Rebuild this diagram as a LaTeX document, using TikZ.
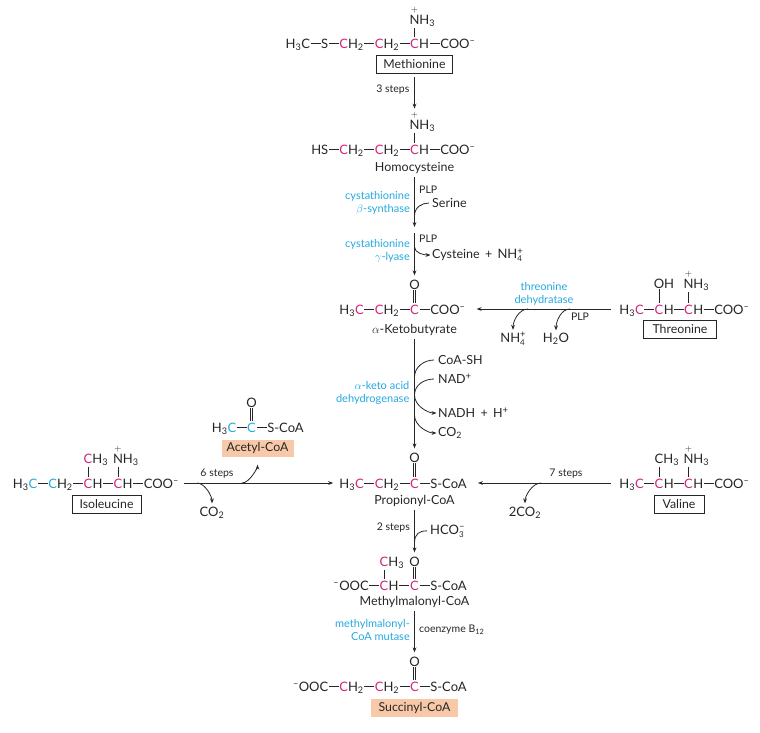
\documentclass[tikz,border=0pt]{standalone}
\usepackage{amsmath}
\usepackage{fontspec}
\setmainfont{Lato}
\usepackage{tikz}
\usetikzlibrary{arrows.meta}
\definecolor{chempink}{HTML}{D4267C}
\definecolor{enzblue}{HTML}{25A9DE}
\definecolor{coabox}{HTML}{F7C9A9}
\newcommand\lo[1]{\textsubscript{#1}}
\newcommand\hi[1]{\textsuperscript{#1}}
\newcommand\cpk[1]{\textcolor{chempink}{#1}}
\newcommand\cbl[1]{\textcolor{enzblue}{#1}}
\newcommand\bnd{\hspace{.6pt}\rule[3.9pt]{9.9pt}{.7pt}\hspace{.6pt}}
\newcommand\ammon{$\overset{+}{\text{N}}$\rlap{H\lo{3}}}
\newcommand\plussup{\raisebox{4.4pt}{\fontsize{9.5}{9.5}\selectfont +}}
\newcommand\subfour[1]{\rlap{\raisebox{-3pt}{\fontsize{8}{8}\selectfont #1}}}
\newcommand\ammonium{NH\subfour{4}\plussup}
\tikzset{
  chem/.style={inner xsep=0pt,inner ysep=1pt,anchor=base,text=black!85,font=\fontsize{13}{15}\selectfont},
  leftpart/.style={chem,anchor=base east},
  rightpart/.style={chem,anchor=base west},
  bond/.style={line width=.7pt,black!85},
  dbond/.style={double,double distance=1.6pt,line width=.55pt,black!85},
  rxn/.style={line width=.8pt,black!85},
  arr/.style={rxn,-{Stealth[length=5pt,width=3.8pt]}},
  lab/.style={inner sep=0pt,text=black!85,font=\fontsize{12.5}{14}\selectfont},
  small/.style={inner sep=0pt,text=black!85,font=\fontsize{10.5}{13}\selectfont},
  enz/.style={inner sep=0pt,align=right,text=enzblue,font=\fontsize{11}{13}\selectfont},
  namebox/.style={draw,line width=.9pt,black!85,text=black!85,inner sep=0pt,minimum height=18pt,font=\fontsize{12.3}{14}\selectfont},
  coa/.style={fill=coabox,inner sep=0pt,minimum height=17pt,text=black!85,font=\fontsize{12.3}{14}\selectfont},
}
\begin{document}
\begin{tikzpicture}[x=1pt,y=-1pt]
  \useasboundingbox (0,0) rectangle (760,732);

  % methionine
  \node[chem] (metC) at (414.5,48) {\cpk{C}};
  \node[leftpart] (metL) at (metC.base west) {H\lo{3}C\bnd S\bnd\cpk{C}H\lo{2}\bnd\cpk{C}H\lo{2}\bnd};
  \node[rightpart] (metR) at (metC.base east) {H\bnd COO\hi{--}};
  \node[chem] (metN) at (414.5,24) {\ammon};
  \draw[bond] (metN) -- (metC);
  \node[namebox,minimum width=76pt] (metbox) at (414.5,64.5) {Methionine};
  \node[small,anchor=east] (steps3) at (409.5,90) {3 steps};

  % homocysteine
  \node[chem] (hcyC) at (414.5,154) {\cpk{C}};
  \node[leftpart] (hcyL) at (hcyC.base west) {HS\bnd\cpk{C}H\lo{2}\bnd\cpk{C}H\lo{2}\bnd};
  \node[rightpart] (hcyR) at (hcyC.base east) {H\bnd COO\hi{--}};
  \node[chem] (hcyN) at (414.5,129) {\ammon};
  \draw[bond] (hcyN) -- (hcyC);
  \node[lab] (hcyname) at (414.5,168) {Homocysteine};
  \draw[arr,shorten <=3pt,shorten >=1pt] (metbox) -- (hcyN);

  % cystathionine steps
  \coordinate (hcyend) at (414.5,227);
  \coordinate (serj) at (414.5,216);
  \draw[arr,shorten <=3pt] (hcyname) -- (hcyend);
  \node[small,anchor=west] (plpa) at (419,190) {PLP};
  \node[lab,anchor=west] (serine) at (432,203) {Serine};
  \draw[rxn,shorten <=3pt] (serine.west) .. controls +(-10,0) and +(0,-9) .. (serj);
  \node[enz,anchor=east] (csyn) at (410,203.5) {cystathionine\\$\beta$-synthase};

  \coordinate (lyatop) at (414.5,233);
  \coordinate (cysj) at (414.5,247);
  \node[chem] (ketoO) at (414.5,289) {O};
  \draw[arr,shorten >=3pt] (lyatop) -- (ketoO);
  \node[small,anchor=west] (plpb) at (419,239) {PLP};
  \node[lab,anchor=west] (cys) at (432,255) {Cysteine \,+\, \fontsize{13}{15}\selectfont\ammonium};
  \draw[arr,shorten >=1.5pt] (cysj) .. controls +(0,6) and +(-8,0) .. (cys.west);
  \node[enz,anchor=east] (clya) at (410,251.5) {cystathionine\\$\gamma$-lyase};

  % ketobutyrate
  \node[chem] (ketoC) at (414.5,314) {\cpk{C}};
  \node[leftpart] (ketoL) at (ketoC.base west) {H\lo{3}\cpk{C}\bnd\cpk{C}H\lo{2}\bnd};
  \node[rightpart] (ketoR) at (ketoC.base east) {\bnd COO\hi{--}};
  \draw[dbond] (ketoO) -- (ketoC);
  \node[lab] (ketoname) at (414.5,330) {$\alpha$-Ketobutyrate};

  % threonine
  \node[chem] (thrCa) at (659,314) {\cpk{C}};
  \node[chem] (thrCb) at (688.5,314) {\cpk{C}};
  \node[leftpart] (thrL) at (thrCa.base west) {H\lo{3}\cpk{C}\bnd};
  \node[rightpart] (thrM) at (thrCa.base east) {H\bnd};
  \node[rightpart] (thrR) at (thrCb.base east) {H\bnd COO\hi{--}};
  \node[chem] (thrO) at (659,288) {O\rlap{H}};
  \node[chem] (thrN) at (688.5,288) {\ammon};
  \draw[bond] (thrO) -- (thrCa);
  \draw[bond] (thrN) -- (thrCb);
  \node[namebox,minimum width=73pt] (thrbox) at (680,329.5) {Threonine};
  \draw[arr,shorten <=8pt,shorten >=11pt] ([yshift=5pt]thrL.base west) -- ([yshift=5pt]ketoR.base east);
  \coordinate (thrja) at (528,309);
  \coordinate (thrjb) at (570,309);
  \node[chem] (nhfour) at (513,342) {\ammonium};
  \node[chem] (water) at (556,342) {H\lo{2}O};
  \draw[arr,shorten >=1pt] (thrja) .. controls +(-9,0) and +(0,-10) .. (nhfour.north);
  \draw[arr,shorten >=1pt] (thrjb) .. controls +(-9,0) and +(0,-10) .. (water.north);
  \node[small] (plpc) at (580,317) {PLP};
  \node[enz,align=center] (thrdh) at (544,293.5) {threonine\\dehydratase};

  % propionyl-CoA
  \node[chem] (proO) at (414.5,462) {O};
  \node[chem] (proC) at (414.5,488) {\cpk{C}};
  \node[leftpart] (proL) at (proC.base west) {H\lo{3}\cpk{C}\bnd\cpk{C}H\lo{2}\bnd};
  \node[rightpart] (proR) at (proC.base east) {\bnd S-CoA};
  \draw[dbond] (proO) -- (proC);
  \node[lab] (proname) at (414.5,501) {Propionyl-CoA};
  \draw[arr,shorten <=3pt,shorten >=3pt] (ketoname) -- (proO);
  \coordinate (dhja) at (414.5,377);
  \coordinate (dhjb) at (414.5,395);
  \coordinate (dhjc) at (414.5,415);
  \node[lab,anchor=west] (coash) at (438,360) {CoA-SH};
  \node[lab,anchor=west] (nad) at (438,379) {NAD\plussup};
  \node[lab,anchor=west] (nadh) at (438,413) {NADH \,+\, H\plussup};
  \node[lab,anchor=west] (cotwoa) at (438,433) {CO\lo{2}};
  \draw[rxn,shorten <=4pt] (coash.west) .. controls +(-14,0) and +(0,-10) .. (dhja);
  \draw[rxn,shorten <=4pt] (nad.west) .. controls +(-14,0) and +(0,-10) .. (dhjb);
  \draw[arr,shorten >=1.5pt] (dhjb) .. controls +(0,11) and +(-10,0) .. (nadh.west);
  \draw[arr,shorten >=1.5pt] (dhjc) .. controls +(0,11) and +(-10,0) .. (cotwoa.west);
  \node[enz,anchor=east] (akdh) at (409.5,392.5) {$\alpha$-keto acid\\dehydrogenase};

  % isoleucine
  \node[chem] (ileCa) at (88,488) {\cpk{C}};
  \node[chem] (ileCb) at (118,488) {\cpk{C}};
  \node[leftpart] (ileL) at (ileCa.base west) {H\lo{3}\cbl{C}\bnd\cbl{C}H\lo{2}\bnd};
  \node[rightpart] (ileM) at (ileCa.base east) {H\bnd};
  \node[rightpart] (ileR) at (ileCb.base east) {H\bnd COO\hi{--}};
  \node[chem] (ileMe) at (88,463) {\cpk{C}\rlap{H\lo{3}}};
  \node[chem] (ileN) at (118,463) {\ammon};
  \draw[bond] (ileMe) -- (ileCa);
  \draw[bond] (ileN) -- (ileCb);
  \node[namebox,minimum width=69pt] (ilebox) at (106.5,504) {Isoleucine};
  \draw[arr,shorten <=5pt,shorten >=6pt] ([yshift=5pt]ileR.base east) -- ([yshift=5pt]proL.base west);
  \node[small] (steps6) at (217,474) {6 steps};
  \coordinate (ileja) at (197,483);
  \coordinate (ilejb) at (242,483);
  \node[chem] (cotwob) at (212,516) {CO\lo{2}};
  \draw[arr,shorten >=2pt] (ileja) .. controls +(8,0) and +(0,-9) .. (cotwob.north);

  % acetyl-CoA
  \node[chem] (aceO) at (251.5,407) {O};
  \node[chem] (aceC) at (251.5,432) {\cbl{C}};
  \node[leftpart] (aceL) at (aceC.base west) {H\lo{3}\cbl{C}\bnd};
  \node[rightpart] (aceR) at (aceC.base east) {\bnd S-CoA};
  \draw[dbond] (aceO) -- (aceC);
  \node[coa,minimum width=72pt] (acebox) at (257.5,448) {Acetyl-CoA};
  \draw[arr,shorten >=8pt] (ilejb) .. controls +(8,0) and +(0,10) .. (acebox.south);

  % valine
  \node[chem] (valCa) at (659,488) {\cpk{C}};
  \node[chem] (valCb) at (688.5,488) {\cpk{C}};
  \node[leftpart] (valL) at (valCa.base west) {H\lo{3}\cpk{C}\bnd};
  \node[rightpart] (valM) at (valCa.base east) {H\bnd};
  \node[rightpart] (valR) at (valCb.base east) {H\bnd COO\hi{--}};
  \node[chem] (valMe) at (659,463) {C\rlap{H\lo{3}}};
  \node[chem] (valN) at (688.5,463) {\ammon};
  \draw[bond] (valMe) -- (valCa);
  \draw[bond] (valN) -- (valCb);
  \node[namebox,minimum width=50pt] (valbox) at (679,504) {Valine};
  \draw[arr,shorten <=8pt,shorten >=11pt] ([yshift=5pt]valL.base west) -- ([yshift=5pt]proR.base east);
  \node[small] (steps7) at (566,474) {7 steps};
  \coordinate (valj) at (541,483);
  \node[chem] (cotwoc) at (525,516) {2CO\lo{2}};
  \draw[arr,shorten >=2pt] (valj) .. controls +(-9,0) and +(0,-9) .. (cotwoc.north);

  % methylmalonyl-CoA
  \node[chem] (mmaMe) at (384,566) {\cpk{C}\rlap{H\lo{3}}};
  \node[chem] (mmaO) at (414.5,566) {O};
  \node[chem] (mmaCa) at (384,590) {\cpk{C}};
  \node[chem] (mmaCb) at (414.5,590) {\cpk{C}};
  \node[leftpart] (mmaL) at (mmaCa.base west) {\hi{--}OOC\bnd};
  \node[rightpart] (mmaM) at (mmaCa.base east) {H\bnd};
  \node[rightpart] (mmaR) at (mmaCb.base east) {\bnd S-CoA};
  \draw[bond] (mmaMe) -- (mmaCa);
  \draw[dbond] (mmaO) -- (mmaCb);
  \node[lab] (mmaname) at (414.5,602) {Methylmalonyl-CoA};
  \draw[arr,shorten <=3pt,shorten >=3pt] (proname) -- (mmaO);
  \node[small,anchor=east] (steps2) at (410,528) {2 steps};
  \coordinate (hcoj) at (414.5,543);
  \node[chem,anchor=base west] (hco) at (430,534) {HCO\subfour{3}\raisebox{4.4pt}{\fontsize{9.5}{9.5}\selectfont --}};
  \draw[rxn,shorten <=3pt] (hco.west) .. controls +(-11,0) and +(0,-9) .. (hcoj);

  % succinyl-CoA
  \node[chem] (sucO) at (414.5,666) {O};
  \node[chem] (sucC) at (414.5,691) {\cpk{C}};
  \node[leftpart] (sucL) at (sucC.base west) {\hi{--}OOC\bnd\cpk{C}H\lo{2}\bnd\cpk{C}H\lo{2}\bnd};
  \node[rightpart] (sucR) at (sucC.base east) {\bnd S-CoA};
  \draw[dbond] (sucO) -- (sucC);
  \node[coa,minimum width=87pt,minimum height=18pt] (sucbox) at (414.5,708) {Succinyl-CoA};
  \draw[arr,shorten <=3pt,shorten >=3pt] (mmaname) -- (sucO);
  \node[enz,anchor=east] (mmut) at (410,629.5) {methylmalonyl-\\CoA mutase};
  \node[small,anchor=west] (cob) at (419,629.5) {coenzyme B\lo{12}};
\end{tikzpicture}
\end{document}
